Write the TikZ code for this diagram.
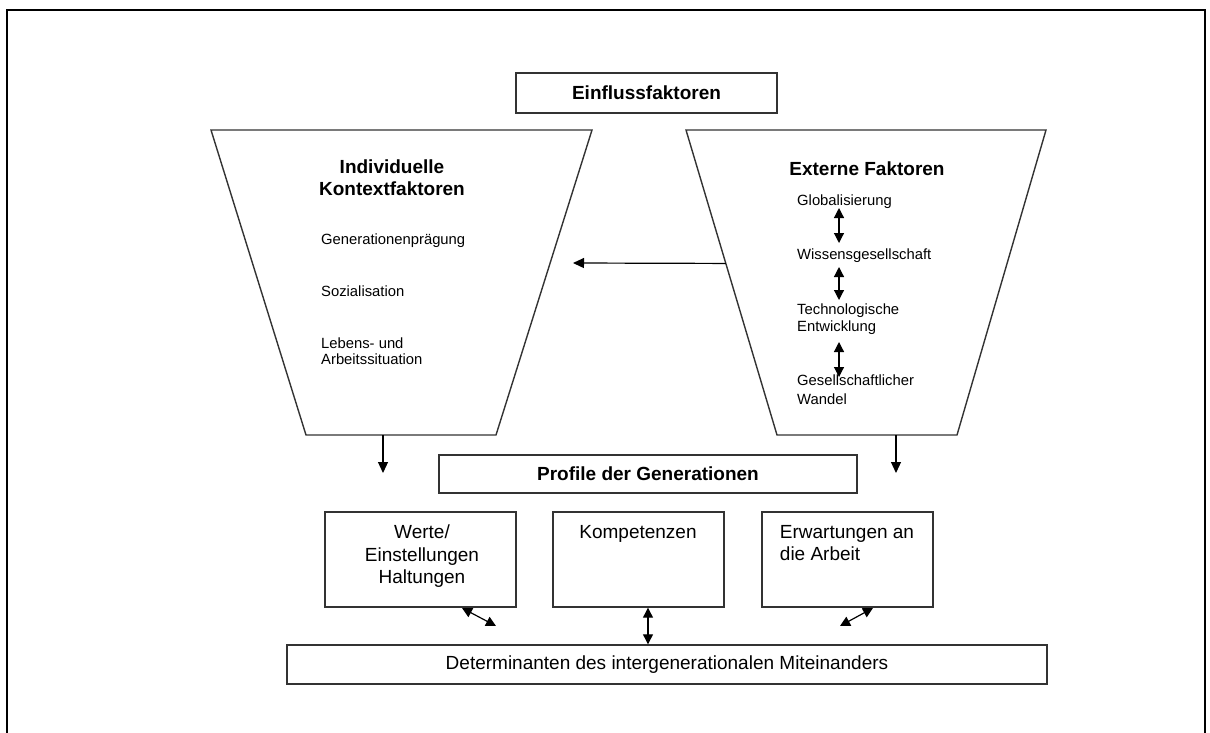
\documentclass[tikz,border=0pt]{standalone}
\usepackage{fontspec}
\setmainfont{Liberation Sans}
\usetikzlibrary{arrows.meta,calc}
\tikzset{
  kbox/.style={draw=black!80,line width=1.4pt,inner sep=0pt,font=\fontsize{19}{22}\selectfont},
  headbox/.style={kbox,font=\fontsize{19}{22}\selectfont\bfseries},
  trap/.style={draw=black!80,line width=1.4pt},
  hd/.style={font=\fontsize{19}{22}\selectfont\bfseries,align=center,inner sep=0pt},
  sm/.style={font=\fontsize{14.8}{16.5}\selectfont,align=left,inner sep=0pt,anchor=west},
  big/.style={font=\fontsize{19}{22.5}\selectfont,inner sep=0pt,anchor=north},
  arr/.style={line width=1.2pt,-{Triangle[length=11pt,width=10pt]}},
  dblarr/.style={line width=1.2pt,{Triangle[length=10pt,width=10pt]}-{Triangle[length=10pt,width=10pt]}}
}
\begin{document}
\begin{tikzpicture}[x=1pt,y=-1pt]
\useasboundingbox (0,0) rectangle (1210,733);
\draw[line width=2.5pt] (7,733) |- (1205,10) -- (1205,733);
\node[headbox,minimum width=261pt,minimum height=40pt] (einfl) at (646.5,93) {Einflussfaktoren};
\coordinate (iTL) at (211,130);
\coordinate (iTR) at (592,130);
\coordinate (iBR) at (496,435);
\coordinate (iBL) at (306,435);
\coordinate (eTL) at (686,130);
\coordinate (eTR) at (1046,130);
\coordinate (eBR) at (957,435);
\coordinate (eBL) at (777,435);
\draw[trap] (iTL) -- (iTR) -- (iBR) -- (iBL) -- cycle;
\draw[trap] (eTL) -- (eTR) -- (eBR) -- (eBL) -- cycle;
\node[hd] (indiv) at (392,178) {Individuelle\\Kontextfaktoren};
\node[hd] (ext) at (867,169) {Externe Faktoren};
\node[sm] (gen) at (321,241) {Generationenprägung};
\node[sm] (soz) at (321,291) {Sozialisation};
\node[sm] (leb) at (321,351) {Lebens- und\\Arbeitssituation};
\node[sm] (glob) at (797,202) {Globalisierung};
\node[sm] (wiss) at (797,256) {Wissensgesellschaft};
\node[sm] (tech) at (797,319) {Technologische\\Entwicklung};
\node[sm] (ges) at (797,390) {Gesellschaftlicher\\[2.5pt]Wandel};
\foreach \i/\ya/\yb in {1/208/243,2/267/300,3/342/377}{
  \coordinate (e\i t) at (839,\ya);
  \coordinate (e\i b) at (839,\yb);
  \draw[dblarr] (e\i t) -- (e\i b);
}
\coordinate (hx) at (573,263);
\draw[arr] ($(eTL)!0.4375!(eBL)$) -- (hx);
\coordinate (dl) at (383,473);
\coordinate (dr) at (896,473);
\draw[arr] (dl |- iBL) -- (dl);
\draw[arr] (dr |- eBL) -- (dr);
\node[headbox,minimum width=418pt,minimum height=38pt] (prof) at (648,474) {Profile der Generationen};
\node[kbox,minimum width=191pt,minimum height=95pt] (werte) at (420.5,559.5) {};
\node[kbox,minimum width=171pt,minimum height=95pt] (komp) at (638.5,559.5) {};
\node[kbox,minimum width=171pt,minimum height=95pt] (erw) at (847.5,559.5) {};
\node[big,align=center] (werteT) at (422,525) {Werte/\\Einstellungen\\Haltungen};
\node[big] (kompT) at (638,525) {Kompetenzen};
\node[big,align=left] (erwT) at (847,525) {Erwartungen an\\die Arbeit};
\node[kbox,minimum width=760pt,minimum height=39pt] (det) at (667,664.5) {Determinanten des intergenerationalen Miteinanders};
\coordinate (wa) at (462,608);
\coordinate (wb) at (496,626);
\coordinate (km) at (648,0);
\coordinate (ea) at (873,608);
\coordinate (eb) at (840,626);
\draw[dblarr] (wa) -- (wb);
\draw[dblarr] (komp.south -| km) -- (det.north -| km);
\draw[dblarr] (ea) -- (eb);
\end{tikzpicture}
\end{document}
